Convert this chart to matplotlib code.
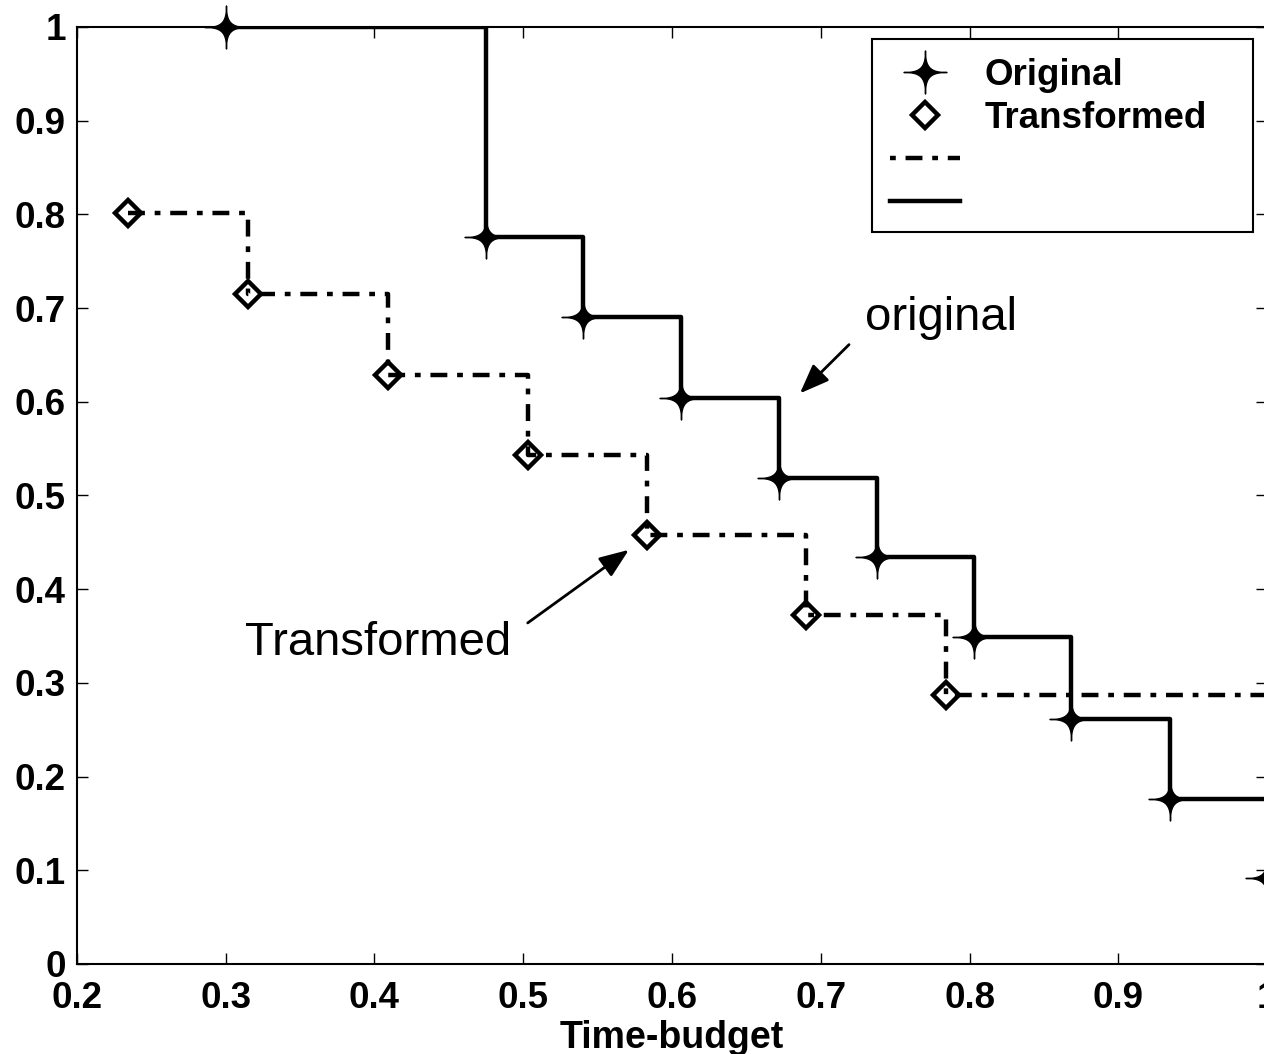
import numpy as np
import matplotlib
matplotlib.use('Agg')
import matplotlib.pyplot as plt
from matplotlib.path import Path
from matplotlib.lines import Line2D
from matplotlib.patches import Rectangle

# values
orig_x = [0.300, 0.475, 0.540, 0.606, 0.672, 0.738, 0.803, 0.868, 0.935, 1.000]
orig_y = [1.000, 0.776, 0.690, 0.604, 0.519, 0.434, 0.349, 0.261, 0.176, 0.092]
trans_x = [0.234, 0.315, 0.409, 0.503, 0.583, 0.690, 0.784]
trans_y = [0.801, 0.715, 0.629, 0.543, 0.458, 0.372, 0.287]

xticks = [0.2, 0.3, 0.4, 0.5, 0.6, 0.7, 0.8, 0.9, 1.0]
xlabels = ['0.2', '0.3', '0.4', '0.5', '0.6', '0.7', '0.8', '0.9', '1']
yticks = [0, 0.1, 0.2, 0.3, 0.4, 0.5, 0.6, 0.7, 0.8, 0.9, 1.0]
ylabels = ['0', '0.1', '0.2', '0.3', '0.4', '0.5', '0.6', '0.7', '0.8', '0.9', '1']

plt.rcParams['font.family'] = ['Liberation Sans', 'DejaVu Sans']

# thin four pointed star marker
t = np.linspace(0, 2 * np.pi, 200)
sx = np.sign(np.cos(t)) * np.abs(np.cos(t)) ** 4.5
sy = np.sign(np.sin(t)) * np.abs(np.sin(t)) ** 4.5
star = Path(np.column_stack([sx, sy]), closed=True)

fig = plt.figure(figsize=(12.64, 10.54), dpi=100)
ax = fig.add_axes([0.0609, 0.0854, 0.9415, 0.889])

dd = (3.8, 2.2, 1.3, 2.2)
lw = 3.2

# step lines
sx_t = np.append(trans_x, 1.0)
sy_t = np.append(trans_y, trans_y[-1])
ax.step(sx_t, sy_t, where='post', color='k', lw=lw, linestyle=(0, dd),
        dash_capstyle='butt')
ax.step(orig_x, orig_y, where='post', color='k', lw=lw)

ax.plot(orig_x, orig_y, linestyle='none', marker=star, ms=31, color='k',
        clip_on=False, zorder=4)
ax.plot(trans_x, trans_y, linestyle='none', marker='D', ms=13, mfc='none',
        mec='k', mew=3.2, clip_on=False, zorder=4)

ax.set_xlim(0.2, 1.0)
ax.set_ylim(0, 1.0)
ax.set_xticks(xticks)
ax.set_xticklabels(xlabels)
ax.set_yticks(yticks)
ax.set_yticklabels(ylabels)
ax.tick_params(direction='in', length=8, width=1, top=True, right=True,
               labelsize=26.5)
ax.tick_params(axis='x', pad=12)
ax.tick_params(axis='y', pad=8)
for lab in ax.get_xticklabels() + ax.get_yticklabels():
    lab.set_fontweight('bold')
for sp in ax.spines.values():
    sp.set_linewidth(1.5)

ax.set_xlabel('Time-budget', fontsize=27, fontweight='bold', labelpad=3)

# annotations
aprops = dict(arrowstyle='-|>,head_length=0.9,head_width=0.35', color='k',
              lw=2, mutation_scale=20, shrinkA=0, shrinkB=0)
ax.text(0.730, 0.677, 'original', fontsize=34, ha='left', va='baseline')
ax.annotate('', xy=(0.686, 0.609), xytext=(0.719, 0.661), arrowprops=aprops)
ax.text(0.313, 0.330, 'Transformed', fontsize=34, ha='left', va='baseline')
ax.annotate('', xy=(0.571, 0.442), xytext=(0.503, 0.364), arrowprops=aprops)

# legend (frame drawn separately to match the box)
handles = [
    Line2D([], [], linestyle='none', marker=star, ms=31, color='k'),
    Line2D([], [], linestyle='none', marker='D', ms=13, mfc='none', mec='k', mew=3.2),
    Line2D([], [], color='k', lw=lw, linestyle=(6.0, dd), dash_capstyle='butt'),
    Line2D([], [], color='k', lw=lw),
]
labels = ['Original', 'Transformed', '', '']
leg = ax.legend(handles, labels, loc='upper left', bbox_to_anchor=(0.668, 0.987),
                borderaxespad=0, frameon=False,
                prop={'size': 26.5, 'weight': 'bold'}, handlelength=1.9,
                handletextpad=0.65, borderpad=0.5, labelspacing=0.22)
ax.add_patch(Rectangle((0.668, 0.781), 0.320, 0.206, transform=ax.transAxes,
                       fill=True, facecolor='white', edgecolor='k', lw=1.5,
                       zorder=4.5))
leg.set_zorder(5)

fig.savefig('out.png', dpi=100)
